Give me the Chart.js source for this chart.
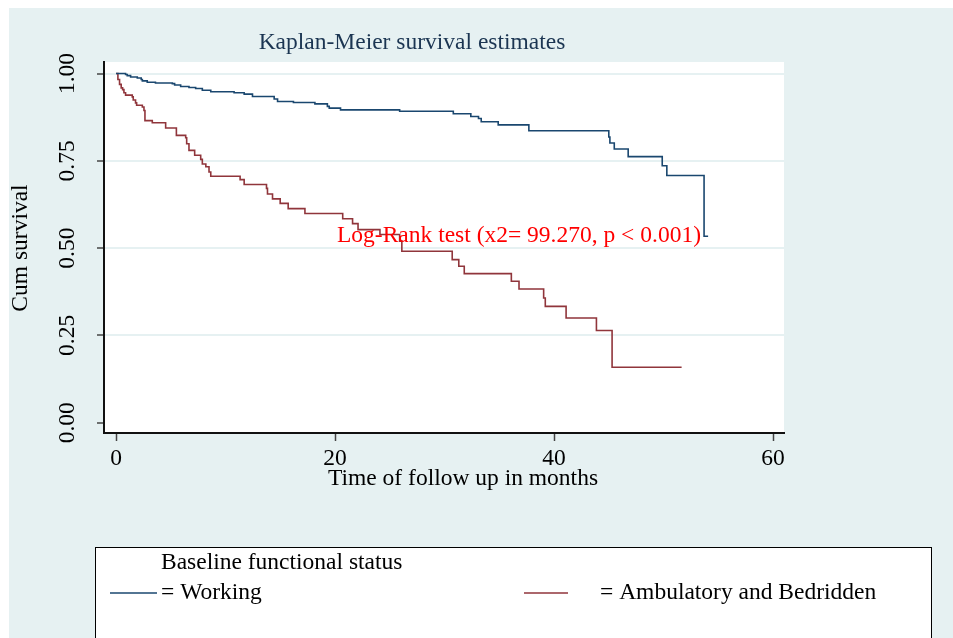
<!DOCTYPE html>
<html>
<head>
<meta charset="utf-8">
<script src="https://cdn.jsdelivr.net/npm/chart.js@4/dist/chart.umd.min.js"></script>
<style>
  body { margin: 0; background: #fff; }
  #wrap { width: 953px; height: 638px; }
</style>
</head>
<body>
<div id="wrap"><canvas id="kmChart" width="953" height="638"></canvas></div>
<script>
// Kaplan-Meier steps (months, cum survival)
const workTime = [0, 0.87, 1.02, 1.33, 1.94, 2.3, 2.4, 2.85, 3.6, 5.14, 5.35, 5.9, 6.66, 7.27, 7.88, 8.65,
    10.78, 11.7, 12.46, 14.44, 14.75, 16.2, 18.16, 19.3, 19.47, 20.5, 25.9, 30.8, 32.4, 33.1, 33.35, 34.9,
    37.7, 45.0, 45.1, 45.5, 46.77, 49.88, 50.3, 53.7, 54.07];
const workSurv = [1.0, 0.997, 0.994, 0.990, 0.987, 0.983, 0.979, 0.975, 0.973, 0.971, 0.967, 0.963, 0.960, 0.957, 0.952, 0.948,
    0.945, 0.941, 0.934, 0.927, 0.920, 0.917, 0.913, 0.906, 0.901, 0.896, 0.892, 0.885, 0.877, 0.871, 0.862, 0.853,
    0.836, 0.818, 0.801, 0.784, 0.762, 0.736, 0.708, 0.534, 0.534];

const ambTime = [0, 0.17, 0.32, 0.47, 0.6, 0.72, 0.87, 1.48, 1.57, 1.78, 1.88, 2.4, 2.55, 2.64, 3.31, 4.53, 5.51,
    6.36, 6.45, 6.66, 7.18, 7.73, 7.88, 8.2, 8.49, 8.65, 11.33, 11.7, 13.74, 13.83, 14.29, 14.99, 15.72, 17.25,
    20.7, 21.6, 22.1, 24.1, 25.9, 26.1, 30.7, 31.3, 31.8, 36.1, 36.8, 39.05, 39.2, 41.1, 43.87, 45.3, 51.65];
const ambSurv = [1.0, 0.983, 0.969, 0.959, 0.954, 0.945, 0.938, 0.933, 0.924, 0.916, 0.909, 0.904, 0.894, 0.865, 0.859, 0.844, 0.823,
    0.816, 0.799, 0.780, 0.766, 0.754, 0.741, 0.733, 0.718, 0.706, 0.696, 0.682, 0.671, 0.655, 0.641, 0.628, 0.613, 0.599,
    0.584, 0.570, 0.553, 0.539, 0.520, 0.491, 0.467, 0.448, 0.427, 0.405, 0.383, 0.357, 0.333, 0.300, 0.264, 0.159, 0.159];

const groupLabels = ['= Working', '= Ambulatory and Bedridden'];
const xTicks = [0, 20, 40, 60];
const yTicks = [0, 0.25, 0.5, 0.75, 1];
const yTickLabels = ['0.00', '0.25', '0.50', '0.75', '1.00'];

const SERIF = '"Liberation Serif", "Times New Roman", serif';
const font = '23.5px ' + SERIF;

function toPoints(times, surv) {
    return times.map((t, i) => ({ x: t, y: surv[i] }));
}

// background, rotated y labels, titles, annotation and legend box
const stataLook = {
    id: 'stataLook',
    beforeDraw(chart) {
        const { ctx, chartArea: a } = chart;
        ctx.save();
        ctx.fillStyle = '#ffffff';
        ctx.fillRect(0, 0, chart.width, chart.height);
        ctx.fillStyle = '#e6f1f2';
        ctx.fillRect(9, 8, chart.width - 9, chart.height - 8);
        ctx.fillStyle = '#ffffff';
        ctx.fillRect(a.left, a.top, a.right - a.left, a.bottom - a.top);
        ctx.restore();
    },
    afterDatasetsDraw(chart) {
        const ctx = chart.ctx;
        ctx.save();
        ctx.font = font;
        ctx.fillStyle = '#ff0000';
        ctx.textAlign = 'left';
        ctx.textBaseline = 'middle';
        ctx.fillText('Log-Rank test (x2= 99.270, p < 0.001)', 337, chart.scales.y.getPixelForValue(0.535));
        ctx.restore();
    },
    afterDraw(chart) {
        const ctx = chart.ctx;
        const yScale = chart.scales.y;
        ctx.save();
        ctx.font = font;
        ctx.textBaseline = 'middle';

        // title
        ctx.fillStyle = '#1b3552';
        ctx.textAlign = 'center';
        ctx.fillText('Kaplan-Meier survival estimates', 412, 43);

        // x axis title
        ctx.fillStyle = '#000';
        ctx.fillText('Time of follow up in months', 463, 479);

        // y tick labels, rotated
        yTicks.forEach((v, i) => {
            ctx.save();
            ctx.translate(68, yScale.getPixelForValue(v));
            ctx.rotate(-Math.PI / 2);
            ctx.fillText(yTickLabels[i], 0, 0);
            ctx.restore();
        });

        // y axis title
        ctx.save();
        ctx.translate(21, 248);
        ctx.rotate(-Math.PI / 2);
        ctx.fillText('Cum survival', 0, 0);
        ctx.restore();

        // legend box
        ctx.fillStyle = '#fff';
        ctx.fillRect(95, 547, 836, 120);
        ctx.strokeStyle = '#000';
        ctx.lineWidth = 1;
        ctx.strokeRect(95.5, 547.5, 836, 120);

        ctx.fillStyle = '#000';
        ctx.textAlign = 'left';
        ctx.fillText('Baseline functional status', 161, 563);

        const ds = chart.data.datasets;
        const items = [
            { x1: 110, x2: 157, tx: 161 },
            { x1: 524, x2: 568, tx: 600 }
        ];
        items.forEach((it, i) => {
            ctx.strokeStyle = ds[i].borderColor;
            ctx.lineWidth = 1.6;
            ctx.beginPath();
            ctx.moveTo(it.x1, 593);
            ctx.lineTo(it.x2, 593);
            ctx.stroke();
            ctx.fillStyle = '#000';
            ctx.fillText(ds[i].label, it.tx, 593);
        });
        ctx.restore();
    }
};

const ctx = document.getElementById('kmChart').getContext('2d');
new Chart(ctx, {
    type: 'line',
    data: {
        datasets: [
            {
                label: groupLabels[0],
                data: toPoints(workTime, workSurv),
                borderColor: '#1a476f',
                borderWidth: 1.6,
                stepped: 'before',
                pointRadius: 0,
                fill: false
            },
            {
                label: groupLabels[1],
                data: toPoints(ambTime, ambSurv),
                borderColor: '#90353b',
                borderWidth: 1.6,
                stepped: 'before',
                pointRadius: 0,
                fill: false
            }
        ]
    },
    options: {
        responsive: false,
        maintainAspectRatio: false,
        devicePixelRatio: 1,
        animation: false,
        layout: { padding: { top: 62, right: 169, left: 0, bottom: 0 } },
        plugins: {
            legend: { display: false },
            title: { display: false },
            tooltip: { enabled: false }
        },
        scales: {
            x: {
                type: 'linear',
                min: -1.1,
                max: 61.0,
                afterBuildTicks: axis => { axis.ticks = xTicks.map(v => ({ value: v })); },
                afterFit: axis => { axis.height = 205; },
                grid: {
                    drawOnChartArea: false,
                    drawTicks: true,
                    tickLength: 8,
                    tickColor: '#444',
                    tickWidth: 1.5
                },
                border: { display: true, color: '#111', width: 2 },
                ticks: {
                    color: '#000',
                    font: { family: SERIF, size: 23.5 },
                    padding: 4,
                    maxRotation: 0,
                    autoSkip: false
                }
            },
            y: {
                min: -0.0295,
                max: 1.033,
                afterBuildTicks: axis => { axis.ticks = yTicks.map(v => ({ value: v })); },
                afterFit: axis => { axis.width = 104; },
                grid: {
                    color: ctx => (ctx.tick && ctx.tick.value === 0 ? 'rgba(0,0,0,0)' : '#e6f1f2'),
                    lineWidth: 2,
                    drawTicks: true,
                    tickLength: 7,
                    tickColor: '#444',
                    tickWidth: 1.5
                },
                border: { display: true, color: '#111', width: 2 },
                ticks: { display: false }
            }
        }
    },
    plugins: [stataLook]
});
</script>
</body>
</html>
